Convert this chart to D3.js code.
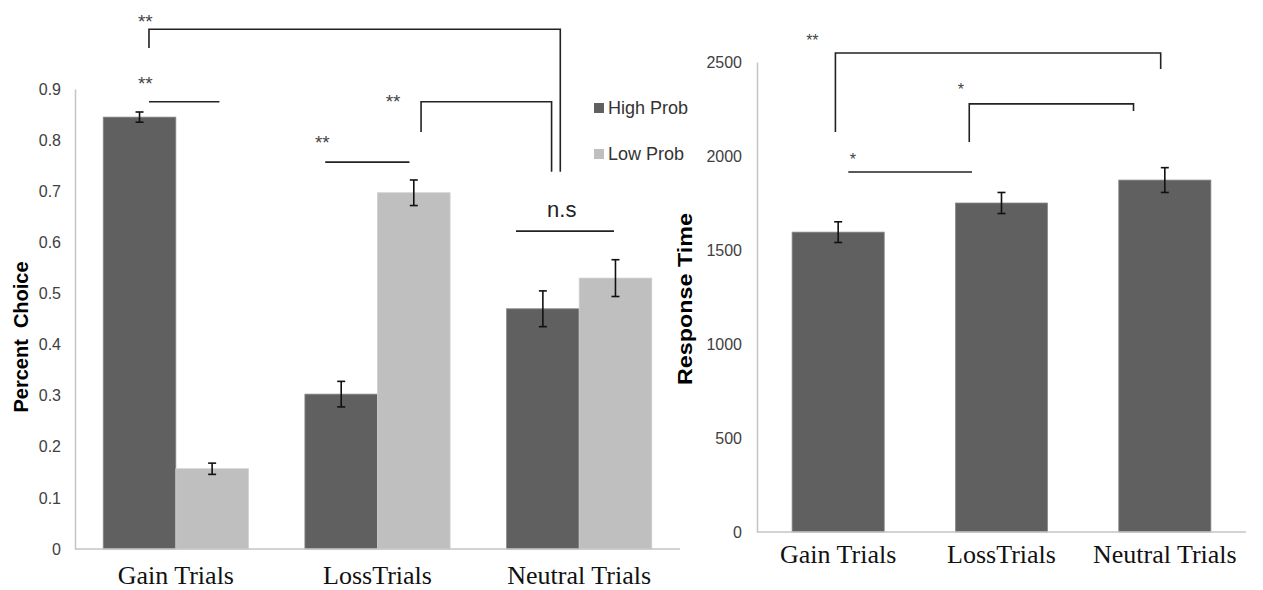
<!DOCTYPE html>
<html>
<head>
<meta charset="utf-8">
<script src="https://cdn.jsdelivr.net/npm/d3@7"></script>
<style>
  body { margin: 0; background: #fff; }
  .tick text { font-family: "Liberation Sans", Arial, sans-serif; font-size: 16px; fill: #404040; }
  .cat { font-family: "Liberation Serif", "Times New Roman", serif; font-size: 26px; fill: #111; }
  .ytitle { font-family: "Liberation Sans", Arial, sans-serif; font-size: 20px; font-weight: bold; fill: #000; }
  .legend { font-family: "Liberation Sans", Arial, sans-serif; font-size: 18px; fill: #333; }
  .star { font-family: "Liberation Sans", Arial, sans-serif; fill: #444; }
  .ann { fill: none; stroke: #222; stroke-width: 1.6; }
  .err { stroke: #111; stroke-width: 1.6; }
</style>
</head>
<body>
<div id="chart"></div>
<script>
// data
var categories = ["Gain Trials", "LossTrials", "Neutral Trials"];
var seriesNames = ["High Prob", "Low Prob"];
var seriesColors = ["#606060", "#bfbfbf"];
var choiceHigh = [0.845, 0.303, 0.470];
var choiceLow = [0.157, 0.697, 0.530];
var choiceHighErr = [0.010, 0.025, 0.035];
var choiceLowErr = [0.011, 0.025, 0.036];
var choiceTicks = [0, 0.1, 0.2, 0.3, 0.4, 0.5, 0.6, 0.7, 0.8, 0.9];
var rtMeans = [1595, 1750, 1872];
var rtErr = [55, 56, 66];
var rtTicks = [0, 500, 1000, 1500, 2000, 2500];

// significance marks: category index + fraction of band width, value levels
var choiceBrackets = [
  {c1: 0, f1: -0.185, c2: 2, f2: -0.13, top: 1.017, l1: 0.980, l2: 0.738},
  {c1: 0, f1: -0.185, c2: 0, f2: 0.30, top: 0.875, l1: 0.875, l2: 0.875},
  {c1: 1, f1: -0.36, c2: 1, f2: 0.22, top: 0.757, l1: 0.757, l2: 0.757},
  {c1: 1, f1: 0.30, c2: 2, f2: -0.19, top: 0.875, l1: 0.816, l2: 0.738},
  {c1: 2, f1: -0.435, c2: 2, f2: 0.24, top: 0.622, l1: 0.622, l2: 0.622}
];
var choiceLabels = [
  {c: 0, f: -0.21, v: 1.040, text: "**", size: 19},
  {c: 0, f: -0.21, v: 0.920, text: "**", size: 19},
  {c: 1, f: -0.38, v: 0.804, text: "**", size: 19},
  {c: 1, f: 0.107, v: 0.884, text: "**", size: 19},
  {c: 2, f: -0.12, v: 0.650, text: "n.s", size: 22, ns: true}
];
var rtBrackets = [
  {c1: 0, f1: -0.03, c2: 2, f2: -0.045, top: 2548, l1: 2128, l2: 2463},
  {c1: 1, f1: -0.35, c2: 2, f2: -0.34, top: 2277, l1: 2074, l2: 2239},
  {c1: 0, f1: 0.11, c2: 1, f2: -0.32, top: 1915, l1: 1915, l2: 1915}
];
var rtLabels = [
  {c: 0, f: -0.28, v: 2633, text: "**", size: 16},
  {c: 1, f: -0.44, v: 2372, text: "*", size: 16},
  {c: 0, f: 0.16, v: 2000, text: "*", size: 16}
];

var svg = d3.select("#chart").append("svg")
    .attr("width", 1263)
    .attr("height", 590);

function drawBrackets(g, list, x, y) {
  var bw = x.bandwidth();
  list.forEach(function(b) {
    var xa = x(categories[b.c1]) + bw / 2 + b.f1 * bw,
        xb = x(categories[b.c2]) + bw / 2 + b.f2 * bw;
    g.append("path")
        .attr("class", "ann")
        .attr("d", "M" + xa + "," + y(b.l1) + "V" + y(b.top) + "H" + xb + "V" + y(b.l2));
  });
}

function drawLabels(g, list, x, y) {
  var bw = x.bandwidth();
  list.forEach(function(l) {
    var cx = x(categories[l.c]) + bw / 2 + l.f * bw;
    g.append("text")
        .attr("class", "star")
        .attr("x", cx)
        .attr("y", y(l.v) + (l.ns ? 0 : l.size * 0.57))
        .attr("text-anchor", "middle")
        .style("font-size", l.size + "px")
        .style("fill", l.ns ? "#222" : "#444")
        .text(l.text);
  });
}

function drawErr(g, cx, top, bot) {
  g.append("line").attr("class", "err").attr("x1", cx).attr("x2", cx).attr("y1", top).attr("y2", bot);
  g.append("line").attr("class", "err").attr("x1", cx - 4).attr("x2", cx + 4).attr("y1", top).attr("y2", top);
  g.append("line").attr("class", "err").attr("x1", cx - 4).attr("x2", cx + 4).attr("y1", bot).attr("y2", bot);
}

// ---------- left chart: percent choice ----------
var g1 = svg.append("g");

var x0 = d3.scaleBand().domain(categories).range([75, 680])
    .paddingInner(0.28).paddingOuter(0.14);
var x1 = d3.scaleBand().domain(seriesNames).range([0, x0.bandwidth()]);
var y1 = d3.scaleLinear().domain([0, 0.9]).range([549, 89]);

var rows = categories.map(function(c, i) {
  return [
    {cat: c, s: 0, v: choiceHigh[i], e: choiceHighErr[i]},
    {cat: c, s: 1, v: choiceLow[i], e: choiceLowErr[i]}
  ];
});

g1.selectAll("g.grp")
  .data(rows)
  .enter().append("g")
    .attr("class", "grp")
    .attr("transform", function(d) { return "translate(" + x0(d[0].cat) + ",0)"; })
  .selectAll("rect")
  .data(function(d) { return d; })
  .enter().append("rect")
    .attr("x", function(d) { return x1(seriesNames[d.s]); })
    .attr("y", function(d) { return y1(d.v); })
    .attr("width", x1.bandwidth())
    .attr("height", function(d) { return y1(0) - y1(d.v); })
    .attr("fill", function(d) { return seriesColors[d.s]; })
    .attr("stroke", function(d) { return d.s === 0 ? "#8a8a8a" : "#cfcfcf"; })
    .attr("stroke-width", 0.8);

rows.forEach(function(r) {
  r.forEach(function(d) {
    var cx = x0(d.cat) + x1(seriesNames[d.s]) + x1.bandwidth() / 2;
    drawErr(g1, cx, y1(d.v + d.e), y1(d.v - d.e));
  });
});

g1.append("g")
    .attr("transform", "translate(75,0)")
    .call(d3.axisLeft(y1).tickValues(choiceTicks).tickSize(0).tickPadding(14)
      .tickFormat(function(d) { return d === 0 ? "0" : d3.format(".1f")(d); }))
    .call(function(a) { a.select(".domain").attr("stroke", "#c4c4c4").attr("stroke-width", 1.5); });

g1.append("line")
    .attr("x1", 75).attr("x2", 680)
    .attr("y1", y1(0)).attr("y2", y1(0))
    .attr("stroke", "#c4c4c4").attr("stroke-width", 1.5);

g1.selectAll("text.cat")
  .data(categories)
  .enter().append("text")
    .attr("class", "cat")
    .attr("x", function(d) { return x0(d) + x0.bandwidth() / 2; })
    .attr("y", 584)
    .attr("text-anchor", "middle")
    .text(function(d) { return d; });

g1.append("text")
    .attr("class", "ytitle")
    .attr("transform", "translate(28,337) rotate(-90)")
    .attr("text-anchor", "middle")
    .style("white-space", "pre")
    .text("Percent\u00a0 Choice");

drawBrackets(g1, choiceBrackets, x0, y1);
drawLabels(g1, choiceLabels, x0, y1);

// legend
var leg = g1.selectAll("g.leg")
  .data(seriesNames)
  .enter().append("g")
    .attr("class", "leg")
    .attr("transform", function(d, i) { return "translate(594," + (103 + i * 46) + ")"; });
leg.append("rect")
    .attr("width", 10).attr("height", 10)
    .attr("fill", function(d, i) { return seriesColors[i]; });
leg.append("text")
    .attr("class", "legend")
    .attr("x", 14).attr("y", 11)
    .text(function(d) { return d; });

// ---------- right chart: response time ----------
var g2 = svg.append("g");

var xr = d3.scaleBand().domain(categories).range([757, 1246])
    .paddingInner(0.436).paddingOuter(0.215);
var yr = d3.scaleLinear().domain([0, 2500]).range([532, 62]);

g2.selectAll("rect")
  .data(rtMeans)
  .enter().append("rect")
    .attr("x", function(d, i) { return xr(categories[i]); })
    .attr("y", function(d) { return yr(d); })
    .attr("width", xr.bandwidth())
    .attr("height", function(d) { return yr(0) - yr(d); })
    .attr("fill", seriesColors[0])
    .attr("stroke", "#8a8a8a")
    .attr("stroke-width", 0.8);

rtMeans.forEach(function(m, i) {
  var cx = xr(categories[i]) + xr.bandwidth() / 2;
  drawErr(g2, cx, yr(m + rtErr[i]), yr(m - rtErr[i]));
});

g2.append("g")
    .attr("transform", "translate(757,0)")
    .call(d3.axisLeft(yr).tickValues(rtTicks).tickSize(0).tickPadding(15).tickFormat(d3.format("d")))
    .call(function(a) { a.select(".domain").attr("stroke", "#c4c4c4").attr("stroke-width", 1.5); });

g2.append("line")
    .attr("x1", 757).attr("x2", 1246)
    .attr("y1", yr(0)).attr("y2", yr(0))
    .attr("stroke", "#c4c4c4").attr("stroke-width", 1.5);

g2.selectAll("text.cat")
  .data(categories)
  .enter().append("text")
    .attr("class", "cat")
    .attr("x", function(d) { return xr(d) + xr.bandwidth() / 2; })
    .attr("y", 563)
    .attr("text-anchor", "middle")
    .text(function(d) { return d; });

g2.append("text")
    .attr("class", "ytitle")
    .attr("transform", "translate(692,299) rotate(-90)")
    .attr("text-anchor", "middle")
    .style("font-size", "21px")
    .attr("textLength", 172)
    .attr("lengthAdjust", "spacingAndGlyphs")
    .text("Response Time");

drawBrackets(g2, rtBrackets, xr, yr);
drawLabels(g2, rtLabels, xr, yr);
</script>
</body>
</html>
